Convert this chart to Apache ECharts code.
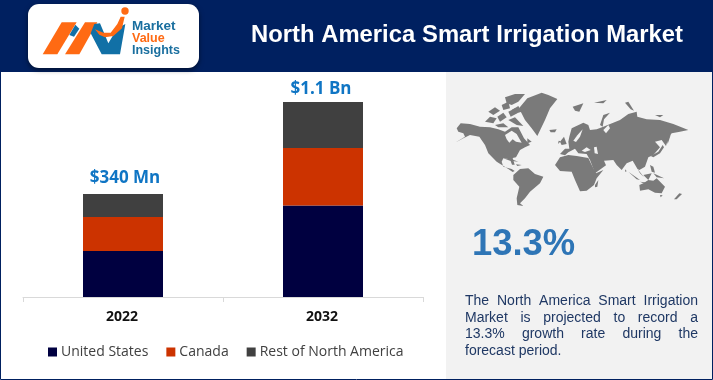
<!DOCTYPE html>
<html><head><meta charset="utf-8">
<style>html,body{margin:0;padding:0;background:#fff}#c{width:713px;height:380px}</style>
<script src="https://cdn.jsdelivr.net/npm/echarts@6/dist/echarts.min.js"></script>
</head><body><div id="c"></div>
<script>
const categories = ['2022', '2032'];
const unitedStates = [46, 91.5];
const canada = [34, 57.5];
const restOfNorthAmerica = [23, 46];
const totalLabels = ['$340 Mn', '$1.1 Bn'];
const chartTitle = 'North America Smart Irrigation Market';
const growthRate = '13.3%';
const noteLines = ['The North America Smart Irrigation', 'Market is projected to record a', '13.3% growth rate during the', 'forecast period.'];

const NAVY = '#002060', MAPC = '#7a7a7a', PANEL = '#f2f2f2';
const SANS = '"Liberation Sans", Arial, sans-serif', HUM = '"Open Sans", sans-serif';
const labelOffsets = [[2, 0], [-2, 3]];

// decorative silhouette of the world map, traced at 3x from the panel's corner
const mapShapes = [
 [[50,175],[62,160],[90,162],[120,170],[150,172],[175,178],[195,185],[215,172],[235,172],[242,185],[252,205],[270,225],[255,232],[240,240],[228,262],[218,264],[224,284],[216,284],[210,268],[190,265],[185,275],[190,290],[215,297],[224,303],[218,306],[205,297],[170,275],[145,250],[135,225],[118,200],[90,195],[70,205],[45,218],[75,200],[70,190],[55,185]],
 [[220,315],[240,297],[265,295],[285,312],[310,320],[300,340],[270,365],[255,385],[240,400],[250,408],[232,405],[230,385],[238,350],[220,330]],
 [[237,115],[262,85],[305,68],[325,75],[352,87],[330,115],[315,150],[292,198],[275,175],[255,150]],
 [[345,285],[360,262],[385,255],[410,258],[445,264],[455,285],[468,310],[490,300],[470,325],[462,345],[440,362],[420,364],[405,330],[395,305],[360,303]],
 [[360,252],[375,236],[388,236],[385,215],[388,200],[395,175],[430,158],[445,165],[450,180],[470,178],[490,170],[540,150],[565,132],[590,125],[592,140],[620,148],[660,150],[700,162],[745,180],[720,185],[695,190],[685,205],[678,228],[665,210],[645,215],[660,232],[640,255],[625,262],[615,290],[598,300],[592,296],[612,322],[600,310],[578,272],[560,280],[545,300],[530,285],[520,270],[492,272],[498,286],[465,310],[450,270],[440,252],[415,250],[405,236],[385,247],[375,256]],
 [[598,345],[610,340],[625,330],[640,332],[650,325],[675,350],[665,370],[645,368],[625,358],[600,362]],
 [[465,345],[475,330],[472,350],[465,352]],
 [[702,388],[718,370],[726,372],[710,388]],
 [[660,375],[668,376],[662,382]],
 [[398,110],[430,100],[418,125],[405,122]],
 [[462,98],[500,90],[490,100]],
 [[555,98],[565,95],[582,122],[572,118]],
 [[480,165],[490,135],[510,128],[492,148],[488,170]],
 [[645,135],[670,135],[660,142]],
 [[328,180],[350,178],[345,187],[332,187]],
 [[360,215],[372,200],[380,222],[365,225]],
 [[356,212],[362,214],[354,222]],
 [[680,205],[692,195],[683,222]],
 [[632,258],[655,245],[668,225],[672,232],[660,250],[640,262]],
 [[565,305],[600,330],[590,328]],
 [[600,335],[635,340],[610,340]],
 [[610,315],[635,310],[625,330]],
 [[630,285],[640,290],[645,308],[635,305]],
 [[640,310],[672,325],[650,322]],
 [[556,298],[560,304],[555,305]],
 [[190,265],[215,268],[235,275],[210,272]],
 [[228,283],[245,285],[232,288]],
 [[262,205],[275,215],[262,220]],
 // arctic archipelago
 [[135,155],[150,140],[170,145],[160,160]],
 [[145,125],[165,112],[180,122],[160,135]],
 [[172,140],[190,128],[200,142],[180,155]],
 [[165,165],[190,160],[205,172],[175,172]],
 [[185,105],[205,95],[210,115],[190,120]],
 [[205,125],[225,115],[232,130],[212,140]],
 [[205,150],[225,142],[250,168],[230,165]],
 [[195,82],[225,72],[255,72],[235,95],[215,105],[200,100]],
 [[215,120],[235,108],[245,125],[230,130]]
];
const mapGaps = [
 [[195,195],[215,182],[230,192],[245,218],[228,215],[218,208],[208,218],[200,208]],
 [[400,212],[412,196],[428,178],[420,200],[408,216]],
 [[425,242],[440,232],[452,240],[435,246]],
 [[462,232],[470,230],[474,252],[464,250]],
 [[490,180],[505,165],[510,175],[498,190]]
];

const pts = (a, ox, oy) => a.map(p => [ox + p[0] / 3, oy + p[1] / 3]);
const poly = (points, fill) => ({ type: 'polygon', shape: { points }, style: { fill }, silent: true });
const txt = (text, x, y, font, fill) => ({ type: 'text', x, y, silent: true, style: { text, font, fill, textVerticalAlign: 'middle', textAlign: 'left' } });

const mctx = document.createElement('canvas').getContext('2d');
function justified(line, x0, x1, y, font, fill, justify) {
  mctx.font = font;
  const words = line.split(' ');
  const widths = words.map(w => mctx.measureText(w).width);
  const total = widths.reduce((s, w) => s + w, 0);
  const gap = justify ? (x1 - x0 - total) / (words.length - 1) : mctx.measureText(' ').width;
  let x = x0;
  return words.map((w, i) => { const el = txt(w, x, y, font, fill); x += widths[i] + gap; return el; });
}

const noteFont = '14px ' + SANS;
const noteYs = [301, 318, 334, 351];
const graphics = [
  { type: 'rect', shape: { x: 0, y: 0, width: 713, height: 72 }, style: { fill: NAVY }, silent: true },
  { type: 'rect', shape: { x: 446, y: 72, width: 266, height: 307 }, style: { fill: PANEL }, silent: true },
  { type: 'rect', shape: { x: 0.5, y: 0.5, width: 712, height: 379 }, style: { fill: 'none', stroke: NAVY, lineWidth: 1 }, silent: true },
  { type: 'rect', shape: { x: 28, y: 4, width: 171, height: 64, r: 11 }, style: { fill: '#fff', shadowBlur: 5, shadowColor: 'rgba(0,0,0,0.5)', shadowOffsetY: 2 }, silent: true },
  poly(pts([[128,163],[185,67],[230,67],[172,163]], 0, 0), '#ff6a13'),
  poly(pts([[195,163],[255,67],[292,67],[238,163]], 0, 0), '#ff6a13'),
  poly(pts([[208,105],[226,74],[238,86],[222,110]], 0, 0), '#1170a6'),
  poly(pts([[283,72],[300,70],[325,130],[352,85],[376,72],[360,163],[305,163],[272,100]], 0, 0), '#1170a6'),
  poly(pts([[285,88],[310,98],[332,98],[352,72],[362,50],[374,50],[366,85],[340,108],[315,112],[298,104]], 0, 0), '#ff6a13'),
  { type: 'circle', shape: { cx: 125, cy: 11, r: 3.7 }, style: { fill: '#ff6a13' }, silent: true },
  txt('Market', 132, 26, 'bold 13.5px ' + SANS, '#1a6f9f'),
  txt('Value', 132, 38.5, 'bold 12.5px ' + SANS, '#ff6a13'),
  txt('Insights', 132, 50.5, 'bold 12.5px ' + SANS, '#1a6f9f'),
  ...justified(chartTitle, 251, 683, 35, 'bold 23.8px ' + SANS, '#fff', true),
  ...mapShapes.map(a => poly(pts(a, 440, 70), MAPC)),
  ...mapGaps.map(a => poly(pts(a, 440, 70), PANEL)),
  txt(growthRate, 472, 245, 'bold 36.4px ' + SANS, '#2e75b6'),
  ...noteLines.flatMap((l, i) => justified(l, 465, 698, noteYs[i], noteFont, '#1f3864', i < 3))
];

const bar = (name, data, color, extra) => Object.assign({ name, type: 'bar', stack: 'total', data, barWidth: 80, itemStyle: { color }, silent: true }, extra || {});
const chart = echarts.init(document.getElementById('c'), null, { renderer: 'canvas' });
chart.setOption({
  animation: false,
  backgroundColor: '#fff',
  graphic: { elements: graphics },
  grid: { left: 23, width: 400, top: 72, height: 225 },
  legend: {
    left: 43, top: 340, itemWidth: 9, itemHeight: 9, itemGap: 18, icon: 'rect',
    textStyle: { fontFamily: HUM, fontSize: 14, color: '#404040', padding: [0, 0, 0, -1] },
    data: ['United States', 'Canada', 'Rest of North America']
  },
  xAxis: {
    type: 'category', data: categories,
    axisLine: { lineStyle: { color: '#d9d9d9', width: 1 } },
    axisTick: { show: true, length: 5, lineStyle: { color: '#d9d9d9' } },
    axisLabel: { fontFamily: HUM, fontWeight: 'bold', fontSize: 14, color: '#111', margin: 13, padding: [0, 2, 0, 0] }
  },
  yAxis: { type: 'value', min: 0, max: 225, show: false },
  series: [
    bar('United States', unitedStates, '#000040'),
    bar('Canada', canada, '#cc3300'),
    bar('Rest of North America', restOfNorthAmerica.map((value, i) => ({
      value,
      label: {
        show: true, position: 'top', distance: 7, offset: labelOffsets[i],
        color: '#0f75c4', fontFamily: HUM, fontWeight: 'bold', fontSize: 17,
        formatter: () => totalLabels[i]
      }
    })), '#404040')
  ]
});
</script></body></html>
